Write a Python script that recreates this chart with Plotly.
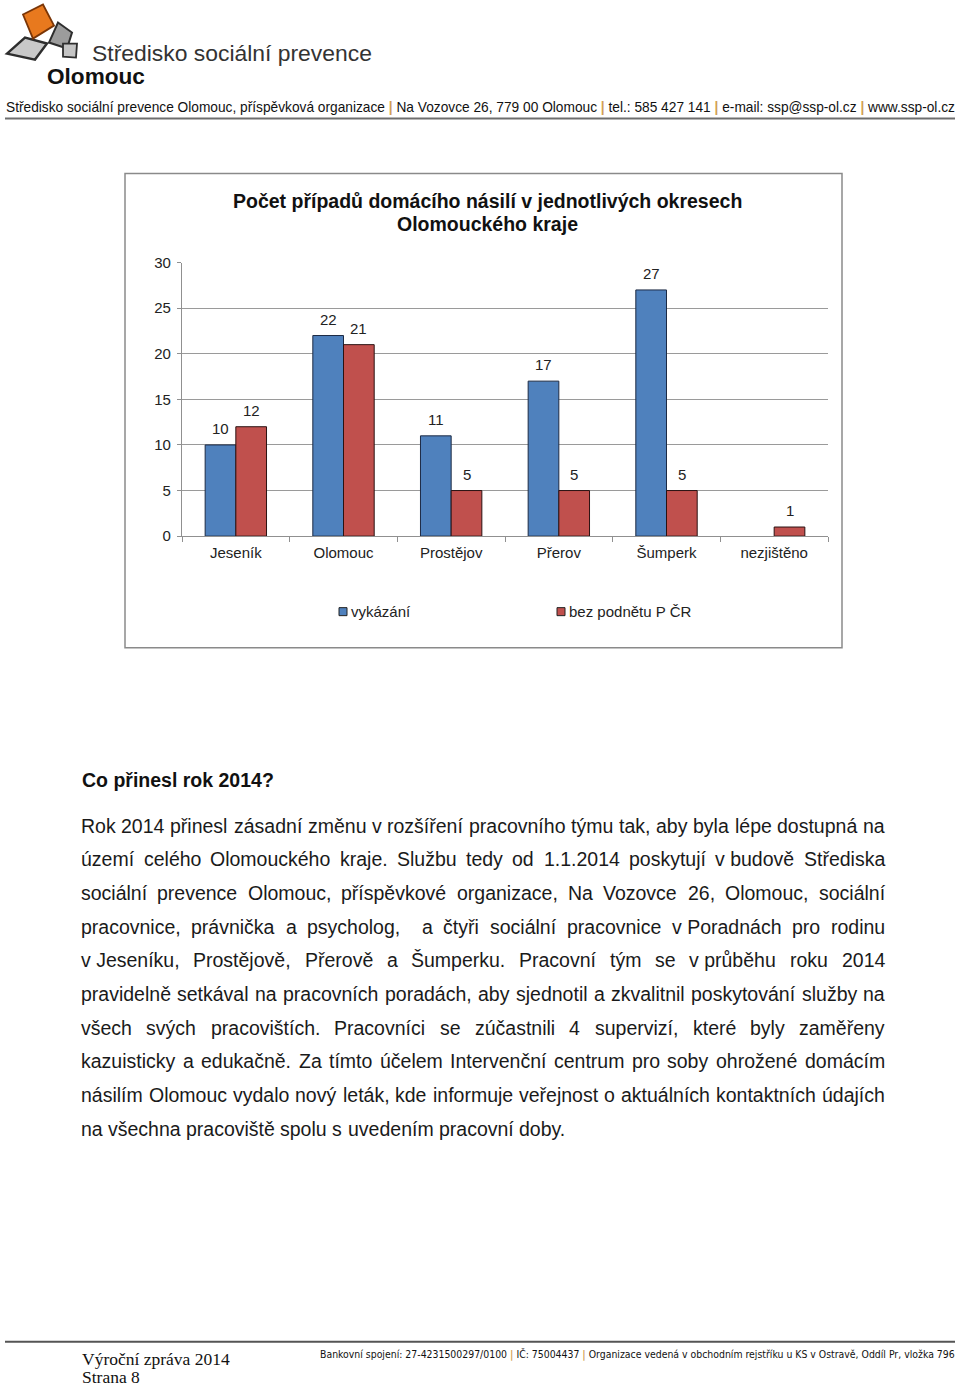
import re
import unicodedata
import plotly.graph_objects as go

W, H = 960, 1400
# empirical vertical mapping of the photographed page: screen_y = SCALE * fig_y + OFFSET
SCALE, OFFSET = 0.9877, 8.45

# ---------------- data ----------------
categories = ["Jeseník", "Olomouc", "Prostějov", "Přerov", "Šumperk", "nezjištěno"]
vykazani = [10, 22, 11, 17, 27, None]
bez_podnetu = [12, 21, 5, 5, 5, 1]
y_tick_values = [0, 5, 10, 15, 20, 25, 30]
series_names = ["vykázání", "bez podnětu P ČR"]
series_colors = ["#4F81BD", "#C0504D"]
chart_title_lines = ["Počet případů domácího násilí v jednotlivých okresech", "Olomouckého kraje"]

logo_line1 = "Středisko sociální prevence"
logo_line2 = "Olomouc"
header_parts = ["Středisko sociální prevence Olomouc, příspěvková organizace",
                "Na Vozovce 26, 779 00 Olomouc", "tel.: 585 427 141",
                "e-mail: ssp@ssp-ol.cz", "www.ssp-ol.cz"]
heading = "Co přinesl rok 2014?"
body_lines = [
    "Rok 2014 přinesl zásadní změnu v rozšíření pracovního týmu tak, aby byla lépe dostupná na",
    "území celého Olomouckého kraje. Službu tedy od 1.1.2014 poskytují v\u00a0budově Střediska",
    "sociální prevence Olomouc, příspěvkové organizace, Na Vozovce 26, Olomouc, sociální",
    "pracovnice, právnička a psycholog,  a čtyři sociální pracovnice v\u00a0Poradnách pro rodinu",
    "v\u00a0Jeseníku, Prostějově, Přerově a Šumperku. Pracovní tým se v\u00a0průběhu roku 2014",
    "pravidelně setkával na pracovních poradách, aby sjednotil a zkvalitnil poskytování služby na",
    "všech svých pracovištích. Pracovníci se zúčastnili 4 supervizí, které byly zaměřeny",
    "kazuisticky a edukačně. Za tímto účelem Intervenční centrum pro soby ohrožené domácím",
    "násilím Olomouc vydalo nový leták, kde informuje veřejnost o aktuálních kontaktních údajích",
    "na všechna pracoviště spolu s uvedením pracovní doby.",
]
footer_left = ["Výroční zpráva 2014", "Strana 8"]
footer_parts = ["Bankovní spojení: 27-4231500297/0100", "IČ: 75004437",
                "Organizace vedená v obchodním rejstříku u KS v Ostravě, Oddíl Pr, vložka 796"]

SANS = "Liberation Sans, Arial, sans-serif"
GOLD = "#D1A055"


def X(px):
    return px / W


def Y(py):
    return 1 - ((py - OFFSET) / SCALE) / H


# Arial / Helvetica advance widths (per 1000 em)
WID = {' ': 278, '\u00a0': 278, ',': 278, '.': 278, ':': 278, '?': 556, '-': 333, '/': 278,
       'A': 667, 'B': 667, 'C': 722, 'D': 722, 'E': 667, 'F': 611, 'G': 778, 'H': 722, 'I': 278,
       'J': 500, 'K': 667, 'L': 556, 'M': 833, 'N': 722, 'O': 778, 'P': 667, 'Q': 778, 'R': 722,
       'S': 667, 'T': 611, 'U': 722, 'V': 667, 'W': 944, 'X': 667, 'Y': 667, 'Z': 611,
       'a': 556, 'b': 556, 'c': 500, 'd': 556, 'e': 556, 'f': 278, 'g': 556, 'h': 556, 'i': 222,
       'j': 222, 'k': 500, 'l': 222, 'm': 833, 'n': 556, 'o': 556, 'p': 556, 'q': 556, 'r': 333,
       's': 500, 't': 278, 'u': 556, 'v': 500, 'w': 722, 'x': 500, 'y': 500, 'z': 500,
       'í': 278, 'Í': 278}


def text_w(s, size):
    tot = 0
    for ch in s:
        if ch in WID:
            tot += WID[ch]
        elif ch.isdigit():
            tot += 556
        else:
            base = unicodedata.normalize('NFD', ch)[0]
            tot += WID.get(base, 556)
    return tot * size / 1000.0


# plot area geometry (pixels, reference page)
PX_L, PX_R, PY_T, PY_B = 182, 828, 262, 535.5
BARGAP = 0.43

fig = go.Figure()
for vals, name, col, edge in [(vykazani, series_names[0], series_colors[0], "#1c2a44"),
                              (bez_podnetu, series_names[1], series_colors[1], "#2a1212")]:
    fig.add_trace(go.Bar(
        x=categories, y=vals, name=name,
        marker=dict(color=col, line=dict(color=edge, width=1)),
        hoverinfo="x+y",
    ))

annotations = []
shapes = []

# value labels, anchored to the data through the axes
cat_px = (PX_R - PX_L) / len(categories)
bar_px = cat_px * (1 - BARGAP) / 2
for k, vals in enumerate([vykazani, bez_podnetu]):
    off = (k - 0.5) * bar_px
    for c, v in zip(categories, vals):
        if v is None:
            continue
        annotations.append(dict(xref="x", yref="y", x=c, y=v, xshift=off, yshift=16.5,
                                yanchor="middle", xanchor="center", text=str(v), showarrow=False,
                                font=dict(family=SANS, size=15, color="#222")))

# chart frame
shapes.append(dict(type="rect", xref="paper", yref="paper", x0=X(125), x1=X(842), y0=Y(647), y1=Y(173),
                   line=dict(color="#8a8a8a", width=1.5), layer="below"))

# chart title (two lines)
for txt, yy in zip(chart_title_lines, [200, 223]):
    annotations.append(dict(xref="paper", yref="paper", x=X(487), y=Y(yy), xanchor="center", yanchor="middle",
                            text="<b>" + txt + "</b>", showarrow=False, borderpad=0,
                            font=dict(family=SANS, size=19.5, color="#111")))

# custom legend
for (sx, tx), name, col in zip([(339, 350), (557, 568)], series_names, series_colors):
    shapes.append(dict(type="rect", xref="paper", yref="paper", x0=X(sx), x1=X(sx + 8), y0=Y(615), y1=Y(607),
                       fillcolor=col, line=dict(color="#222", width=1)))
    annotations.append(dict(xref="paper", yref="paper", x=X(tx), y=Y(611), xanchor="left", yanchor="middle",
                            text=name, showarrow=False, borderpad=0,
                            font=dict(family=SANS, size=15, color="#222")))


# logo shapes
def poly(points, fill, line_col, lw):
    d = "M " + " L ".join(f"{X(px):.5f},{Y(py):.5f}" for px, py in points) + " Z"
    return dict(type="path", xref="paper", yref="paper", path=d, fillcolor=fill,
                line=dict(color=line_col, width=lw))


shapes.append(poly([(7, 53), (25, 37), (47, 43), (35, 59)], "#c9c9c9", "#2e2e2e", 2.4))
shapes.append(poly([(58, 22), (72, 32), (67, 48), (49, 42)], "#9c9c9c", "#2e2e2e", 2.0))
shapes.append(poly([(63, 43), (77, 43), (76, 57), (63, 56)], "#c4c4c4", "#2e2e2e", 1.8))
shapes.append(poly([(23, 14), (43, 4), (54, 25), (33, 38)], "#E8791E", "#7a3506", 1.8))

annotations.append(dict(xref="paper", yref="paper", x=X(91), y=Y(52), xanchor="left", yanchor="middle",
                        text=logo_line1, showarrow=False, borderpad=0,
                        font=dict(family=SANS, size=22.9, color="#333")))
annotations.append(dict(xref="paper", yref="paper", x=X(46), y=Y(75.5), xanchor="left", yanchor="middle",
                        text="<b>" + logo_line2 + "</b>", showarrow=False, borderpad=0,
                        font=dict(family=SANS, size=22.6, color="#111")))

# header contact line
sep = f" <span style='color:{GOLD}'><b>|</b></span> "
annotations.append(dict(xref="paper", yref="paper", x=X(5), y=Y(106.5), xanchor="left", yanchor="middle",
                        text=sep.join(header_parts), showarrow=False, borderpad=0,
                        font=dict(family=SANS, size=13.72, color="#111")))
shapes.append(dict(type="line", xref="paper", yref="paper", x0=X(5), x1=X(955), y0=Y(118), y1=Y(118),
                   line=dict(color="#6e6e6e", width=2)))

# heading
BODY = 19.5
annotations.append(dict(xref="paper", yref="paper", x=X(81), y=Y(779.5), xanchor="left", yanchor="middle",
                        text="<b>" + heading + "</b>", showarrow=False, borderpad=0,
                        font=dict(family=SANS, size=BODY, color="#111")))

# justified body text
LEFT, RIGHT = 81, 885
line_y = [825, 858.5, 892, 926, 959.5, 993, 1027, 1060.5, 1094, 1128]
for i, (ln, yy) in enumerate(zip(body_lines, line_y)):
    parts = re.split(r"( +)", ln)
    words = parts[0::2]
    gaps = [len(g) for g in parts[1::2]]
    last = (i == len(body_lines) - 1)
    natural = sum(text_w(w, BODY) for w in words) + sum(gaps) * text_w(" ", BODY)
    extra = 0 if last or sum(gaps) == 0 else (RIGHT - LEFT - natural) / sum(gaps)
    x = LEFT
    for j, w in enumerate(words):
        annotations.append(dict(xref="paper", yref="paper", x=X(x), y=Y(yy), xanchor="left", yanchor="middle",
                                text=w, showarrow=False, borderpad=0, borderwidth=0,
                                font=dict(family=SANS, size=BODY, color="#1a1a1a")))
        x += text_w(w, BODY)
        if j < len(gaps):
            x += gaps[j] * (text_w(" ", BODY) + extra)

# footer
shapes.append(dict(type="line", xref="paper", yref="paper", x0=X(5), x1=X(955), y0=Y(1341), y1=Y(1341),
                   line=dict(color="#555", width=2)))
for txt, yy in zip(footer_left, [1358, 1376]):
    annotations.append(dict(xref="paper", yref="paper", x=X(81), y=Y(yy), xanchor="left", yanchor="middle",
                            text=txt, showarrow=False, borderpad=0,
                            font=dict(family="Liberation Serif, Times New Roman, serif", size=17.5, color="#111")))
fsep = f" <span style='color:{GOLD}'><b>|</b></span> "
annotations.append(dict(xref="paper", yref="paper", x=X(956), y=Y(1354), xanchor="right", yanchor="middle",
                        text=fsep.join(footer_parts), showarrow=False, borderpad=0,
                        font=dict(family="DejaVu Sans Condensed, Liberation Sans Narrow, sans-serif",
                                  size=10.4, color="#111")))

fig.update_layout(
    width=W, height=H, margin=dict(l=0, r=0, t=0, b=0),
    paper_bgcolor="white", plot_bgcolor="white",
    barmode="group", bargap=BARGAP, bargroupgap=0,
    showlegend=False,
    font=dict(family=SANS, color="#222"),
    xaxis=dict(domain=[X(PX_L), X(PX_R)], showline=True, linecolor="#909090", linewidth=1.3,
               ticks="outside", tickson="boundaries", ticklen=5, tickcolor="#909090",
               ticklabelstandoff=3,
               tickfont=dict(family=SANS, size=15, color="#222"), showgrid=False, fixedrange=True),
    yaxis=dict(domain=[Y(PY_B), Y(PY_T)], range=[0, 30], tickvals=y_tick_values,
               showline=True, linecolor="#909090", linewidth=1.3, ticks="outside", ticklen=4,
               tickcolor="#909090", showgrid=True, gridcolor="#9a9a9a", gridwidth=1.3, zeroline=False,
               ticklabelstandoff=3,
               tickfont=dict(family=SANS, size=15, color="#222"), fixedrange=True),
    annotations=annotations, shapes=shapes,
)

fig.write_html("out.html")
